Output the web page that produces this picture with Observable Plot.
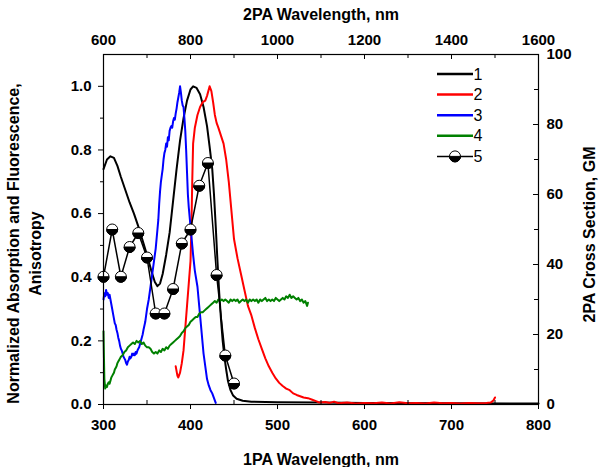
<!DOCTYPE html>
<html><head><meta charset="utf-8">
<script src="https://cdn.jsdelivr.net/npm/d3@7"></script>
<script src="https://cdn.jsdelivr.net/npm/@observablehq/plot@0.6"></script>
<style>html,body{margin:0;padding:0;background:#fff;} svg{display:block}</style>
</head><body><div id="chart"></div>
<script>
// ---------- DATA ----------
// 1: absorption (black)
const absWl  = [300,304,308,312,316,320,325,330,335,340,345,350,355,359,362,365,368,372,376,380,384,388,392,396,400,403,407,411,415,419,422,425,427,429,431,433,435,437,439,441,443,446,449,453,460,470,500,550,600,700,800];
const absVal = [0.74,0.77,0.78,0.775,0.75,0.715,0.675,0.635,0.6,0.56,0.515,0.47,0.42,0.385,0.372,0.38,0.41,0.47,0.54,0.64,0.74,0.83,0.9,0.955,0.99,1.0,0.995,0.975,0.935,0.875,0.81,0.74,0.66,0.56,0.45,0.35,0.27,0.2,0.15,0.11,0.075,0.045,0.028,0.018,0.012,0.009,0.007,0.006,0.005,0.004,0.003];

// 2: fluorescence (red)
const flWl  = [383,385,386,388,390,392,394,396,398,400,401,402,403,405,408,411,414,417,419,422,424,426,428,430,432,435,438,441,444,447,450,454,458,462,466,470,474,478,482,486,490,494,498,502,506,510,514,518,522,526,530,535,540,545,548,555,560,565,570,580,590,600,610,620,630,640,650,660,670,680,690,700,710,720,730,740,745,748,750];
const flVal = [0.12,0.09,0.085,0.1,0.13,0.17,0.24,0.31,0.38,0.45,0.55,0.7,0.82,0.87,0.91,0.935,0.95,0.955,0.97,1.0,0.985,0.95,0.91,0.885,0.87,0.845,0.82,0.77,0.7,0.61,0.52,0.46,0.41,0.36,0.31,0.28,0.24,0.205,0.175,0.145,0.12,0.1,0.082,0.068,0.058,0.05,0.045,0.035,0.03,0.026,0.022,0.02,0.015,0.01,0.006,0.008,0.005,0.009,0.004,0.006,0.003,0.005,0.004,0.006,0.003,0.007,0.004,0.005,0.003,0.006,0.004,0.005,0.003,0.005,0.004,0.005,0.006,0.012,0.022];

// 3: excitation (blue)
const exWl  = [300,301,302,303,304,305,306,307,308,309,310,311,312,313,314,315,316,317,318,319,320,321,322,323,324,325,326,327,328,329,330,331,332,333,334,335,336,337,338,339,340,341,342,343,344,345,346,348,350,352,354,356,358,360,362,363,364,365,366,367,368,369,370,371,372,373,374,375,376,377,378,379,380,381,382,383,384,385,386,387,388,389,390,391,392,393,394,395,396,397,398,400,402,403,405,408,410,412,414,415,417,419,421,423,425,427,429];
const exVal = [0.33,0.35,0.34,0.36,0.345,0.35,0.335,0.345,0.33,0.315,0.3,0.285,0.27,0.255,0.25,0.235,0.225,0.21,0.2,0.185,0.175,0.17,0.16,0.15,0.145,0.14,0.13,0.125,0.135,0.14,0.15,0.145,0.15,0.16,0.155,0.16,0.155,0.165,0.16,0.17,0.175,0.18,0.19,0.2,0.21,0.22,0.235,0.26,0.3,0.33,0.37,0.41,0.45,0.49,0.55,0.58,0.63,0.67,0.7,0.72,0.74,0.77,0.79,0.8,0.82,0.81,0.84,0.83,0.86,0.87,0.875,0.87,0.89,0.9,0.895,0.915,0.93,0.95,0.965,0.98,1.0,0.98,0.955,0.94,0.935,0.9,0.86,0.8,0.73,0.66,0.62,0.56,0.5,0.47,0.42,0.37,0.31,0.25,0.19,0.16,0.12,0.08,0.06,0.045,0.035,0.02,0.005];

// 4: anisotropy (green)
const anWl  = [300,300.5,301,302,303,304,305,306,307,308,309,310,311,312,313,314,315,316,317,318,319,320,322,324,326,328,330,332,334,336,338,340,342,344,346,348,350,352,354,356,358,360,362,364,366,368,370,372,374,376,378,380,382,384,386,388,390,392,394,396,398,400,402,404,406,408,410,412,414,416,418,420,422,424,426,428,430,432,434,436,438,440,442,444,446,448,450,452,454,456,458,460,462,464,466,468,470,472,474,476,478,480,482,484,486,488,490,492,494,496,498,500,502,504,506,508,510,512,514,516,518,520,522,524,526,528,530,532,534,535];
const anVal = [0.23,0.15,0.08,0.05,0.06,0.055,0.065,0.07,0.065,0.075,0.085,0.09,0.095,0.1,0.11,0.115,0.12,0.13,0.135,0.14,0.145,0.15,0.155,0.165,0.17,0.18,0.185,0.19,0.195,0.19,0.2,0.195,0.2,0.19,0.195,0.185,0.18,0.18,0.175,0.165,0.16,0.165,0.16,0.17,0.165,0.175,0.17,0.18,0.175,0.185,0.19,0.195,0.2,0.205,0.21,0.215,0.225,0.23,0.24,0.245,0.25,0.26,0.265,0.27,0.275,0.275,0.285,0.29,0.29,0.295,0.3,0.305,0.31,0.315,0.32,0.325,0.32,0.33,0.325,0.33,0.325,0.33,0.325,0.32,0.33,0.325,0.33,0.325,0.33,0.32,0.325,0.33,0.325,0.33,0.32,0.33,0.325,0.33,0.325,0.33,0.32,0.33,0.325,0.33,0.335,0.325,0.33,0.325,0.33,0.325,0.335,0.33,0.325,0.33,0.335,0.33,0.34,0.335,0.345,0.335,0.34,0.335,0.33,0.335,0.325,0.33,0.32,0.325,0.31,0.32];

// 5: 2PA cross section (GM) vs 2PA wavelength (nm)
const tpaWl = [600,620,640,660,680,700,720,740,760,780,800,820,840,860,880,900];
const tpaGM = [36.5,50,36.5,45,49,42,26,26,33,46,50,62.5,69,37,14,6];

// axis ticks
const xMajor = [300,400,500,600,700,800];
const xMinor = [350,450,550,650,750];
const yMajor = [0,0.2,0.4,0.6,0.8,1.0];
const yMinor = [0.1,0.3,0.5,0.7,0.9];
const topMajor = [600,800,1000,1200,1400,1600];
const topMinor = [700,900,1100,1300,1500];
const gmMajor = [0,20,40,60,80,100];
const gmMinor = [10,30,50,70,90];
const legendLabels = ["1","2","3","4","5"];
const seriesColors = ["#000000","#ff0000","#0000ff","#008000","#000000"];

// ---------- SCALES / LAYOUT ----------
const yMax = 1.1, gmMax = 100;
const W = 600, H = 467, mL = 103, mR = 62, mT = 54, mB = 63;
const innerW = W - mL - mR, innerH = H - mT - mB;
const FONT = '"Liberation Sans", Arial, Helvetica, sans-serif';

const pairs = (xs, ys) => xs.map((x, i) => ({x, y: ys[i]}));
const s1 = pairs(absWl, absVal);
const s2 = pairs(flWl, flVal);
const s3 = pairs(exWl, exVal);
const s4 = pairs(anWl, anVal);
const s5 = tpaWl.map((w, i) => ({x: w / 2, y: tpaGM[i] * yMax / gmMax}));

const halfBottom = {
  draw(ctx, size) {
    const r = Math.sqrt(size / Math.PI);
    ctx.moveTo(r, 0);
    ctx.arc(0, 0, r, 0, Math.PI);
    ctx.closePath();
  }
};

const titleStyle = {text: d => d, fontSize: 16, fontWeight: "bold", textAnchor: "middle", lineAnchor: "middle"};

const svg = Plot.plot({
  width: W, height: H,
  marginLeft: mL, marginRight: mR, marginTop: mT, marginBottom: mB,
  style: {fontFamily: FONT, fontSize: "15px", fontWeight: "bold", color: "#000", background: "#fff"},
  x: {domain: [300, 800]},
  y: {domain: [0, yMax]},
  marks: [
    Plot.line(s1, {x: "x", y: "y", stroke: seriesColors[0], strokeWidth: 2}),
    Plot.line(s2, {x: "x", y: "y", stroke: seriesColors[1], strokeWidth: 2}),
    Plot.line(s3, {x: "x", y: "y", stroke: seriesColors[2], strokeWidth: 2}),
    Plot.line(s4, {x: "x", y: "y", stroke: seriesColors[3], strokeWidth: 2}),
    Plot.line(s5, {x: "x", y: "y", stroke: seriesColors[4], strokeWidth: 1.5}),
    Plot.dot(s5, {x: "x", y: "y", r: 5.5, fill: "#fff", stroke: "#000", strokeWidth: 1}),
    Plot.dot(s5, {x: "x", y: "y", r: 5.5, symbol: halfBottom, fill: "#000", stroke: "#000", strokeWidth: 1}),
    Plot.frame({stroke: "#000", strokeWidth: 1.2}),
    // left axis
    Plot.axisY(yMajor, {anchor: "left", tickSize: 5, tickPadding: 7, tickFormat: d3.format(".1f"), label: null}),
    Plot.axisY(yMinor, {anchor: "left", tickSize: 3, tickFormat: () => "", label: null}),
    // bottom axis
    Plot.axisX(xMajor, {anchor: "bottom", tickSize: 5, tickPadding: 10, label: null}),
    Plot.tickX(xMinor, {x: d => d, insetTop: innerH - 4, stroke: "#000"}),
    // top axis (2PA = 2 x 1PA)
    Plot.axisX(topMajor.map(d => d / 2), {anchor: "top", tickSize: 0, tickPadding: 10, tickFormat: d => String(d * 2), label: null}),
    Plot.tickX(topMajor.map(d => d / 2), {x: d => d, insetBottom: innerH - 5, stroke: "#000"}),
    Plot.tickX(topMinor.map(d => d / 2), {x: d => d, insetBottom: innerH - 4, stroke: "#000"}),
    // right axis (GM)
    Plot.axisY(gmMajor.map(g => g * yMax / gmMax), {anchor: "right", tickSize: 0, tickPadding: 8, tickFormat: d => String(Math.round(d / yMax * gmMax)), label: null}),
    Plot.tickY(gmMajor.map(g => g * yMax / gmMax), {y: d => d, insetLeft: innerW - 5, stroke: "#000"}),
    Plot.tickY(gmMinor.map(g => g * yMax / gmMax), {y: d => d, insetLeft: innerW - 4, stroke: "#000"}),
    // titles
    Plot.text(["2PA Wavelength, nm"], {...titleStyle, frameAnchor: "top", dy: -40}),
    Plot.text(["1PA Wavelength, nm"], {...titleStyle, frameAnchor: "bottom", dy: 55}),
    Plot.text(["Normalized Absorption and Fluorescence,"], {...titleStyle, frameAnchor: "left", rotate: -90, dx: -90, dy: 14}),
    Plot.text(["Anisotropy"], {...titleStyle, frameAnchor: "left", rotate: -90, dx: -68, dy: 24}),
    Plot.text(["2PA Cross Section, GM"], {...titleStyle, frameAnchor: "right", rotate: -90, dx: 51, dy: 5})
  ]
});

// ---------- LEGEND (inside plot, top-right) ----------
const lg = d3.select(svg).append("g").attr("font-family", FONT).attr("font-size", 16).attr("font-weight", "normal");
const lx1 = W - mR - 101, lx2 = W - mR - 65, ly0 = mT + 20, lstep = 20.6;
legendLabels.forEach((lab, i) => {
  const y = ly0 + i * lstep;
  lg.append("line").attr("x1", lx1).attr("x2", lx2).attr("y1", y).attr("y2", y)
    .attr("stroke", seriesColors[i]).attr("stroke-width", i === 4 ? 1.5 : 2.5);
  if (i === 4) {
    const cx = (lx1 + lx2) / 2, r = 5.5;
    lg.append("circle").attr("cx", cx).attr("cy", y).attr("r", r).attr("fill", "#fff").attr("stroke", "#000");
    lg.append("path").attr("d", `M${cx + r},${y} A${r},${r} 0 0 1 ${cx - r},${y} Z`).attr("fill", "#000").attr("stroke", "#000");
  }
  lg.append("text").attr("x", lx2 + 5).attr("y", y).attr("dy", "0.35em").text(lab);
});

document.getElementById("chart").appendChild(svg);
</script>
</body></html>
